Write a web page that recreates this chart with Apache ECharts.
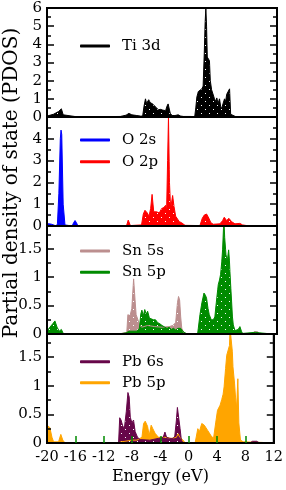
<!DOCTYPE html>
<html><head><meta charset="utf-8">
<script src="https://cdn.jsdelivr.net/npm/echarts@6/dist/echarts.min.js"></script>
<style>html,body{margin:0;padding:0;background:#fff}#c{width:286px;height:490px}</style>
</head><body><div id="c"></div>
<script>
// ---- data (energy in eV, PDOS) ----
const ti3d = [[-20,0.05],[-19.8,0.08],[-19.1,0.15],[-18.4,0.3],[-18.0,0.45],[-17.75,0.12],[-17.5,0.03],[-16,0.02],[-12,0.02],[-9.8,0.03],[-9.0,0.1],[-8.6,0.2],[-8.2,0.12],[-7.5,0.08],[-7.0,0.05],[-6.69,0.05],[-6.5,0.6],[-6.3,1.0],[-6.15,0.75],[-6.0,0.8],[-5.85,0.95],[-5.65,0.8],[-5.45,0.85],[-5.25,0.7],[-5.1,0.75],[-4.9,0.55],[-4.75,0.5],[-4.5,0.4],[-4.2,0.42],[-3.9,0.38],[-3.5,0.35],[-3.3,0.6],[-3.15,0.72],[-3.0,0.65],[-2.85,0.2],[-2.6,0.08],[-2.2,0.08],[-1.95,0.15],[-1.75,0.12],[-1.4,0.05],[-1.0,0.03],[0,0.03],[0.55,0.02],[0.7,0.5],[0.85,1.1],[1.05,1.4],[1.3,1.45],[1.55,1.55],[1.72,1.7],[1.88,3.5],[2.0,5.2],[2.1,6.0],[2.2,5.0],[2.3,3.3],[2.45,3.2],[2.6,3.1],[2.72,2.0],[2.9,1.5],[3.1,1.4],[3.3,1.0],[3.5,0.85],[3.62,1.05],[3.8,0.75],[4.0,1.0],[4.15,0.6],[4.3,0.45],[4.5,0.75],[4.7,1.0],[4.85,0.85],[5.0,1.25],[5.2,1.3],[5.4,1.55],[5.55,0.15],[5.7,0.05],[6.2,0.03],[7,0.02],[10.5,0.02],[11,0]];
const o2s = [[-20,0.1],[-19.7,0.1],[-19.35,0.08],[-19.2,0],[-18.7,0],[-18.55,0.1],[-18.35,1.5],[-18.15,4.0],[-18.05,4.4],[-17.95,4.2],[-17.75,1.0],[-17.5,0.05],[-17.3,0],[-16.5,0],[-16.3,0.15],[-16.1,0.25],[-15.9,0.15],[-15.7,0],[11,0]];
const o2p = [[-20,0],[-8.95,0],[-8.7,0.27],[-8.4,0.02],[-6.85,0.05],[-6.6,0.55],[-6.37,0.72],[-6.05,0.6],[-5.81,0.45],[-5.58,0.8],[-5.38,1.45],[-5.15,0.65],[-4.75,0.65],[-4.38,0.6],[-4.05,0.8],[-3.73,0.85],[-3.5,0.95],[-3.36,0.7],[-3.22,3.0],[-3.1,5.0],[-2.96,2.0],[-2.8,0.8],[-2.52,1.4],[-2.33,0.9],[-2.1,0.45],[-1.83,0.4],[-1.6,0.2],[-1.27,0.15],[-0.8,0.03],[1.28,0.02],[1.6,0.35],[1.88,0.5],[2.2,0.55],[2.53,0.35],[2.8,0.15],[3.13,0.08],[4.06,0.1],[4.43,0.25],[4.66,0.4],[4.99,0.25],[5.31,0.35],[5.68,0.2],[6.15,0.1],[6.84,0.12],[7.21,0.05],[7.77,0.02],[11,0]];
const sn5s = [[-20,0],[-10,0],[-9.85,0.02],[-8.9,0.03],[-8.75,0.34],[-8.45,0.32],[-8.2,0.45],[-7.95,0.97],[-7.75,0.6],[-7.6,0.34],[-7.35,0.25],[-7.1,0.15],[-6.8,0.12],[-6.0,0.15],[-5.0,0.13],[-4.0,0.12],[-3.0,0.13],[-2.5,0.15],[-2.1,0.2],[-1.85,0.55],[-1.7,0.66],[-1.55,0.6],[-1.4,0.3],[-1.25,0.1],[-1.0,0.03],[-0.5,0],[8.5,0],[8.8,0.04],[9.3,0.04],[9.6,0.01],[11,0]];
const sn5p = [[-20,0.05],[-19.6,0.12],[-19.2,0.18],[-18.9,0.23],[-18.6,0.12],[-18.3,0.05],[-18.0,0.08],[-17.7,0],[-10,0],[-9.0,0.02],[-8.6,0.05],[-7.5,0.05],[-7.15,0.1],[-6.95,0.35],[-6.8,0.42],[-6.6,0.32],[-6.4,0.43],[-6.2,0.35],[-6.0,0.4],[-5.75,0.28],[-5.5,0.3],[-5.2,0.25],[-4.9,0.25],[-4.6,0.2],[-4.3,0.18],[-4.0,0.15],[-3.6,0.12],[-3.3,0.1],[-3.0,0.12],[-2.7,0.08],[-2.4,0.1],[-2.1,0.07],[-1.8,0.1],[-1.4,0.1],[-1.1,0.05],[-0.8,0.02],[-0.5,0],[0.95,0],[1.05,0.1],[1.28,0.34],[1.55,0.55],[1.84,0.72],[2.05,0.68],[2.2,0.63],[2.4,0.45],[2.58,0.34],[2.85,0.25],[3.13,0.25],[3.35,0.3],[3.55,0.55],[3.83,0.87],[4.0,0.95],[4.15,1.05],[4.3,1.25],[4.43,1.48],[4.55,1.85],[4.62,2.0],[4.72,1.7],[4.9,1.4],[5.08,1.28],[5.27,1.48],[5.38,1.3],[5.45,1.1],[5.58,0.8],[5.68,0.58],[5.8,0.3],[5.92,0.16],[6.15,0.06],[6.38,0.05],[6.6,0.08],[6.84,0.13],[7.05,0.05],[7.21,0.01],[9.0,0.03],[9.6,0.02],[10.5,0.01],[11,0]];
const pb6s = [[-20,0],[-9.9,0],[-9.74,0.44],[-9.55,0.4],[-9.32,0.3],[-9.09,0.25],[-8.81,0.55],[-8.58,0.88],[-8.4,0.8],[-8.25,0.45],[-8.02,0.35],[-7.79,0.4],[-7.56,0.2],[-7.23,0.1],[-6.86,0.06],[-5.5,0.05],[-4.3,0.08],[-3.6,0.1],[-3.36,0.19],[-3.13,0.1],[-2.66,0.08],[-2.2,0.08],[-1.97,0.12],[-1.74,0.4],[-1.6,0.62],[-1.41,0.6],[-1.22,0.25],[-1.04,0.05],[-0.8,0],[8.6,0],[9.0,0.03],[9.6,0.03],[10,0],[11,0]];
const pb5p = [[-20,0.31],[-19.6,0.27],[-19.3,0.1],[-19.07,0.02],[-18.37,0.02],[-18.05,0.15],[-17.77,0.05],[-17.45,0],[-10,0],[-9.6,0.02],[-9.0,0.03],[-8.0,0.05],[-7.3,0.05],[-6.9,0.08],[-6.6,0.1],[-6.37,0.34],[-6.14,0.38],[-5.81,0.29],[-5.58,0.13],[-5.3,0.31],[-5.07,0.25],[-4.75,0.17],[-4.28,0.1],[-3.8,0.1],[-3.36,0.1],[-2.9,0.09],[-2.45,0.08],[-1.74,0.1],[-1.5,0.16],[-1.27,0.1],[-0.8,0.05],[-0.5,0],[0.9,0],[1.04,0.02],[1.28,0.25],[1.51,0.2],[1.84,0.34],[2.2,0.31],[2.67,0.22],[3.13,0.13],[3.5,0.08],[3.6,0.1],[3.8,0.35],[4.06,0.57],[4.25,0.6],[4.43,0.66],[4.66,0.76],[4.85,0.85],[4.99,0.98],[5.2,1.3],[5.36,1.53],[5.6,1.56],[5.75,1.7],[5.83,2.0],[6.06,2.0],[6.15,1.6],[6.24,1.33],[6.47,1.03],[6.6,0.8],[6.75,0.6],[6.93,1.12],[7.07,0.35],[7.3,0.05],[7.7,0.02],[10.4,0.01],[10.6,0]];

// ---- axes ----
const xTicks = [-16,-12,-8,-4,0,4,8];
const yMax = [6, 5, 1.9, 1.9];
const yStep = [1, 1, 0.5, 0.5];
const showTopLabel = [true, false, false, false];

const FONT = '"DejaVu Serif", serif';
const gridTop = [8, 117, 226, 334];
const gridH = [109, 109, 108, 109];

function pat(color, dots) {
  const c = document.createElement('canvas');
  c.width = 8; c.height = 8;
  const g = c.getContext('2d');
  g.fillStyle = color; g.fillRect(0, 0, 8, 8);
  if (dots) { g.fillStyle = '#ffffff'; g.fillRect(1, 1, 1, 1); g.fillRect(5, 5, 1, 1); }
  return { image: c, repeat: 'repeat' };
}

const grids = [], xAxes = [], yAxes = [];
for (let i = 0; i < 4; i++) {
  grids.push({ left: 47, right: 9, top: gridTop[i], height: gridH[i], show: true, borderColor: '#000', borderWidth: 2, backgroundColor: 'transparent' });
  const last = i === 3;
  xAxes.push({
    gridIndex: i, type: 'value', min: -20, max: 12, interval: 4, z: 5,
    axisLine: { show: true, onZero: false, lineStyle: { color: '#000', width: 2 } },
    axisTick: { show: last, inside: true, length: 7, customValues: xTicks, lineStyle: { color: '#008b00', width: 1.5 } },
    axisLabel: { show: last, fontFamily: FONT, fontSize: 14.5, color: '#000', margin: 7 },
    splitLine: { show: false },
    name: last ? 'Energy (eV)' : '', nameLocation: 'middle', nameGap: 26,
    nameTextStyle: { fontFamily: FONT, fontSize: 16, color: '#000' }
  });
  for (const pos of ['left', 'right']) {
    yAxes.push({
      gridIndex: i, type: 'value', position: pos, min: 0, max: yMax[i], interval: yStep[i], z: 5,
      axisLine: { show: true, onZero: false, lineStyle: { color: '#000', width: 2 } },
      axisTick: { show: true, inside: true, length: 7, lineStyle: { color: '#000', width: 1.5 } },
      axisLabel: { show: pos === 'left', showMaxLabel: showTopLabel[i], fontFamily: FONT, fontSize: 15, color: '#000', margin: 5 },
      splitLine: { show: false }
    });
    yAxes.push({
      gridIndex: i, type: 'value', position: pos, min: 0, max: yMax[i], interval: yStep[i] / 2, z: 5,
      axisLine: { show: false, onZero: false },
      axisTick: { show: true, inside: true, length: 4, lineStyle: { color: '#000', width: 1.5 } },
      axisLabel: { show: false }, splitLine: { show: false }
    });
  }
}

function ser(name, data, gi, color, dots) {
  return {
    name, type: 'line', data, xAxisIndex: gi, yAxisIndex: gi * 4,
    showSymbol: false, symbol: 'none', color, clip: true,
    lineStyle: { color, width: 1 },
    areaStyle: { color: pat(color, dots), opacity: 1 },
    silent: true
  };
}

const series = [
  ser('Ti 3d', ti3d, 0, '#000000', true),
  ser('O 2p', o2p, 1, '#ff0000', true),
  ser('O 2s', o2s, 1, '#0000ff', false),
  ser('Sn 5s', sn5s, 2, '#bc8f8f', true),
  ser('Sn 5p', sn5p, 2, '#008b00', true),
  ser('Pb 5p', pb5p, 3, '#ffa500', false),
  ser('Pb 6s', pb6s, 3, '#67074a', true)
];

const legendRows = [['Ti 3d', 46], ['O 2s', 140], ['O 2p', 161.7], ['Sn 5s', 251], ['Sn 5p', 272.3], ['Pb 6s', 361.7], ['Pb 5p', 382.7]];
const legends = legendRows.map(([n, cy]) => ({
  data: [n], left: 80, top: cy - 8, padding: 0, icon: 'roundRect', itemWidth: 30, itemHeight: 3,
  selectedMode: false,
  textStyle: { fontFamily: FONT, fontSize: 15, color: '#000', lineHeight: 16, padding: [0, 0, 0, 7] }
}));

const chart = echarts.init(document.getElementById('c'), null, { renderer: 'canvas' });
chart.setOption({
  animation: false,
  backgroundColor: '#fff',
  grid: grids, xAxis: xAxes, yAxis: yAxes, series, legend: legends,
  graphic: [{
    type: 'text', x: 12, y: 183, rotation: Math.PI / 2,
    style: { text: 'Partial density of state (PDOS)', font: '20px "DejaVu Serif", serif', fill: '#000', align: 'center', verticalAlign: 'middle' }
  }]
});
</script></body></html>
